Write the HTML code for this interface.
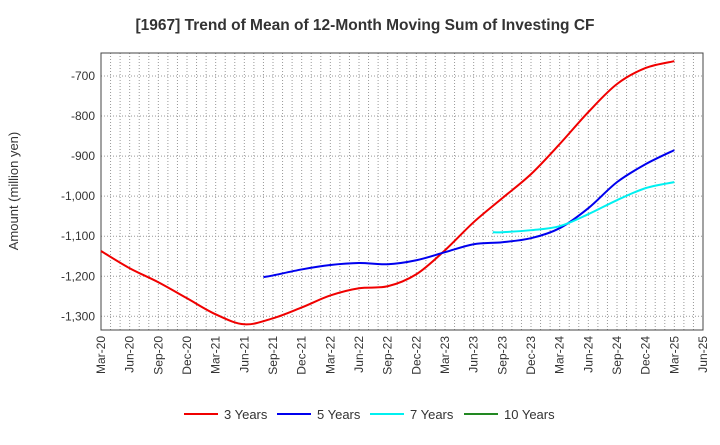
<!DOCTYPE html>
<html><head><meta charset="utf-8"><style>
body{margin:0;background:#fff;font-family:"Liberation Sans",sans-serif;}
</style></head><body>
<svg id="c" width="720" height="440" xmlns="http://www.w3.org/2000/svg">
<text x="365" y="30" text-anchor="middle" font-size="15.5" font-weight="bold" fill="#333">[1967]  Trend of Mean of 12-Month Moving Sum of Investing CF</text>
<text transform="translate(18,191) rotate(-90)" text-anchor="middle" font-size="13" fill="#333">Amount (million yen)</text>
<g id="grid"></g><g id="axes"></g><g id="series"></g><g id="legend"></g>
</svg>
<script>
const xLabels=["Mar-20","Jun-20","Sep-20","Dec-20","Mar-21","Jun-21","Sep-21","Dec-21","Mar-22","Jun-22","Sep-22","Dec-22","Mar-23","Jun-23","Sep-23","Dec-23","Mar-24","Jun-24","Sep-24","Dec-24","Mar-25","Jun-25"];
const yTicks=[-700,-800,-900,-1000,-1100,-1200,-1300];
const yTickLabels=["-700","-800","-900","-1,000","-1,100","-1,200","-1,300"];
const m3=[0,3,6,9,12,15,18,21,24,27,30,33,36,39,42,45,48,51,54,57,60];
const v3=[-1137,-1180,-1215,-1255,-1295,-1320,-1305,-1278,-1248,-1230,-1225,-1195,-1135,-1065,-1005,-945,-870,-790,-720,-680,-663];
const m5=[17,18,21,24,27,30,33,36,39,42,45,48,51,54,57,60];
const v5=[-1202,-1198,-1183,-1172,-1167,-1170,-1160,-1140,-1120,-1115,-1105,-1080,-1030,-965,-920,-885];
const m7=[41,42,45,48,51,54,57,60];
const v7=[-1090,-1090,-1085,-1075,-1045,-1010,-980,-965];
const m10=[];const v10=[];
const L=101,R=703,T=53,B=330;
const X=m=>L+m*(R-L)/63;
const Y=v=>76+(-700-v)*0.4005;
const NS="http://www.w3.org/2000/svg";
function mk(t,a,p){const e=document.createElementNS(NS,t);for(const k in a)e.setAttribute(k,a[k]);p.appendChild(e);return e;}
const g=document.getElementById('grid'),ax=document.getElementById('axes'),s=document.getElementById('series'),lg=document.getElementById('legend');
for(let m=1;m<63;m++){const l=mk('line',{x1:X(m),x2:X(m),y1:T,y2:B,stroke:'#999','stroke-dasharray':'1,2','stroke-width':1},g);

}
yTicks.forEach((v,i)=>{const l=mk('line',{x1:L,x2:R,y1:Y(v),y2:Y(v),stroke:'#999','stroke-dasharray':'1,2'},g);


const t=mk('text',{x:L-6,y:Y(v)+4,'text-anchor':'end','font-size':12,fill:'#333'},ax);t.textContent=yTickLabels[i];

});
const fr=mk('rect',{x:L,y:T,width:R-L,height:B-T,fill:'none',stroke:'#444'},ax);


xLabels.forEach((lb,i)=>{const x=X(i*3);const t=mk('text',{transform:`translate(${x+4},${B+6}) rotate(-90)`,'text-anchor':'end','font-size':12,fill:'#333'},ax);t.textContent=lb;

});
function path(ms,vs){const p=ms.map((m,i)=>[X(m),Y(vs[i])]);if(p.length<2)return '';let d=`M${p[0][0]},${p[0][1]}`;
for(let i=0;i<p.length-1;i++){const p0=p[i-1]||p[i],p1=p[i],p2=p[i+1],p3=p[i+2]||p2;
d+=` C${p1[0]+(p2[0]-p0[0])/6},${p1[1]+(p2[1]-p0[1])/6} ${p2[0]-(p3[0]-p1[0])/6},${p2[1]-(p3[1]-p1[1])/6} ${p2[0]},${p2[1]}`;}return d;}
const ser=[[m3,v3,'#f00000','3 Years','series-3-years'],[m5,v5,'#0000ee','5 Years','series-5-years'],[m7,v7,'#00f0f0','7 Years','series-7-years'],[m10,v10,'#228822','10 Years','series-10-years']];
ser.forEach(([m,v,c,n,id],i)=>{const p=mk('path',{d:path(m,v),fill:'none',stroke:c,'stroke-width':2},s);


const lx=[184,277,370,464][i];
const ln=mk('line',{x1:lx,x2:lx+34,y1:414,y2:414,stroke:c,'stroke-width':2},lg);


const t=mk('text',{x:lx+40,y:419,'font-size':13,fill:'#333'},lg);t.textContent=n;

});
</script>
</body></html>
